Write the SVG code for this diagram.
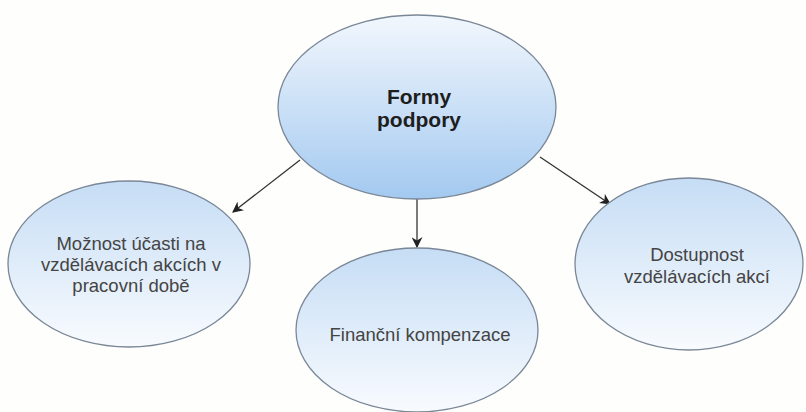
<svg xmlns="http://www.w3.org/2000/svg" width="806" height="412" viewBox="0 0 806 412">
<defs>
<linearGradient id="gTop" x1="0" y1="0" x2="0" y2="1">
<stop offset="0" stop-color="#f2f7fd"/>
<stop offset="1" stop-color="#a3c9f0"/>
</linearGradient>
<linearGradient id="gSub" x1="0" y1="0" x2="0" y2="1">
<stop offset="0" stop-color="#c6ddf5"/>
<stop offset="1" stop-color="#f8fbfe"/>
</linearGradient>
<marker id="arr" viewBox="0 0 10 10" refX="9" refY="5" markerWidth="11" markerHeight="11" markerUnits="userSpaceOnUse" orient="auto">
<path d="M0,0 L10,5 L0,10 L3,5 Z" fill="#222"/>
</marker>
</defs>
<style>
.node ellipse{stroke:#7a8797;stroke-width:1.3}
.sub{fill:url(#gSub)}
.main{fill:url(#gTop)}
.lbl{font-family:"Liberation Sans",Arial,sans-serif;font-size:18.5px;fill:#444;text-anchor:middle}
.ttl{font-family:"Liberation Sans",Arial,sans-serif;font-size:21px;font-weight:bold;fill:#1e1e1e;text-anchor:middle}
.conn line{stroke:#333;stroke-width:1.3;marker-end:url(#arr)}
</style>
<rect width="806" height="412" fill="#fefefc"/>
<g class="conn" id="connectors">
<line x1="300" y1="160" x2="233" y2="212"/>
<line x1="417" y1="199" x2="417" y2="247"/>
<line x1="540" y1="157" x2="610" y2="204"/>
</g>
<g class="node" id="n-formy">
<ellipse class="main" cx="417" cy="107" rx="139" ry="92"/>
<text class="ttl" x="419" y="104">Formy</text>
<text class="ttl" x="419" y="127">podpory</text>
</g>
<g class="node" id="n-moznost">
<ellipse class="sub" cx="129" cy="264" rx="121" ry="83"/>
<text class="lbl" x="131" y="250">Možnost účasti na</text>
<text class="lbl" x="131" y="271">vzdělávacích akcích v</text>
<text class="lbl" x="131" y="292">pracovní době</text>
</g>
<g class="node" id="n-financni">
<ellipse class="sub" cx="417" cy="330" rx="121" ry="82"/>
<text class="lbl" x="420" y="341">Finanční kompenzace</text>
</g>
<g class="node" id="n-dostupnost">
<ellipse class="sub" cx="689" cy="264" rx="114" ry="86"/>
<text class="lbl" x="697" y="261">Dostupnost</text>
<text class="lbl" x="697" y="283">vzdělávacích akcí</text>
</g>
</svg>
